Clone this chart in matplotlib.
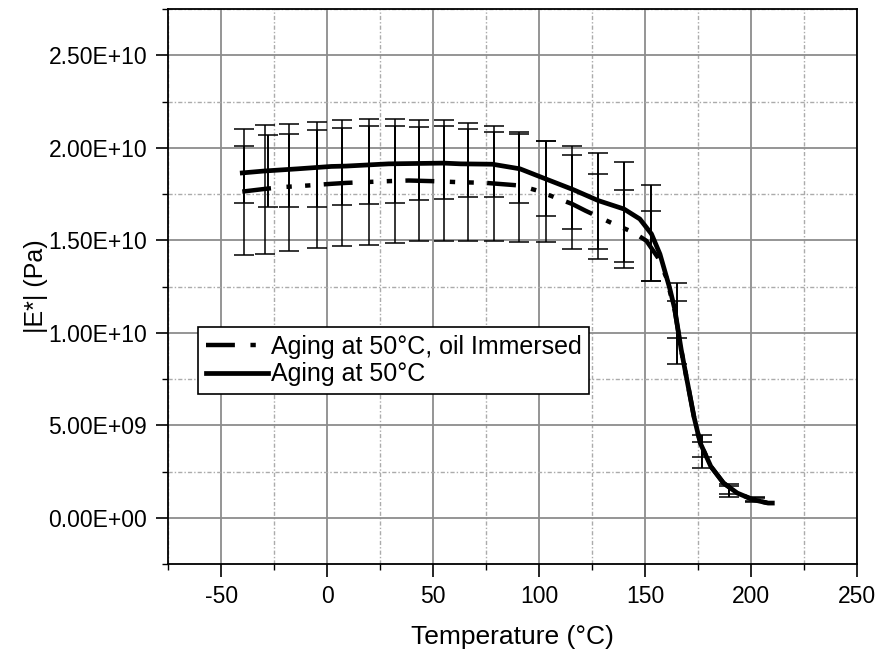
import numpy as np
import matplotlib
matplotlib.use("Agg")
import matplotlib.pyplot as plt
from matplotlib.ticker import MultipleLocator

plt.rcParams['font.family'] = ['Liberation Sans', 'DejaVu Sans']

# curve readings (temperature in C, |E*| in units of 1e10 Pa)
t_dry = [-40, -30, -14, 2, 9, 29, 55, 63, 78, 91, 103, 116, 128, 140, 147.5, 153,
         157, 161.5, 164, 167, 170, 173, 176, 181, 187, 193.5, 201, 208, 210]
e_dry = [1.865, 1.875, 1.887, 1.90, 1.902, 1.914, 1.918, 1.914, 1.912, 1.887, 1.833,
         1.775, 1.715, 1.67, 1.616, 1.535, 1.426, 1.246, 1.128, 0.911, 0.73, 0.549,
         0.405, 0.278, 0.188, 0.134, 0.098, 0.08, 0.08]

t_oil = [-40, -29, -21.5, -9, 2, 9, 27.6, 38.5, 51, 62, 75, 90.7, 99, 115.6, 121.8,
         133.5, 144.4, 150.6, 156, 160, 164, 167, 170, 173, 176, 181, 187, 193.5, 201, 208]
e_oil = [1.764, 1.779, 1.788, 1.797, 1.806, 1.811, 1.82, 1.824, 1.82, 1.815, 1.811,
         1.797, 1.77, 1.697, 1.661, 1.598, 1.544, 1.498, 1.408, 1.30, 1.12, 0.91, 0.73,
         0.55, 0.405, 0.278, 0.188, 0.134, 0.098, 0.08]

# error bar readings
eb_t_dry = [-39, -28, -17.9, -4.7, 7, 20, 31.8, 43.5, 55.2, 66.5, 78.7, 90.7, 103.4,
            115.6, 127.7, 140.2, 152.7, 165, 177, 189.6, 202]
eb_m_dry = [1.855, 1.877, 1.88, 1.889, 1.90, 1.906, 1.91, 1.916, 1.921, 1.919, 1.91,
            1.887, 1.837, 1.76, 1.712, 1.652, 1.539, 1.05, 0.36, 0.15, 0.10]
eb_s_dry = [0.153, 0.194, 0.197, 0.206, 0.21, 0.21, 0.21, 0.197, 0.196, 0.185, 0.176,
            0.186, 0.203, 0.2, 0.26, 0.27, 0.258, 0.22, 0.09, 0.035, 0.012]

eb_t_oil = [-39, -29.3, -17.9, -4.7, 7, 20, 31.8, 43.5, 55.2, 66.5, 78.7, 90.7, 103.4,
            115.6, 127.7, 140.2, 152.7, 165, 177, 189.6, 202]
eb_m_oil = [1.76, 1.774, 1.788, 1.80, 1.81, 1.816, 1.82, 1.822, 1.822, 1.816, 1.807,
            1.79, 1.765, 1.733, 1.63, 1.562, 1.47, 1.07, 0.37, 0.15, 0.10]
eb_s_oil = [0.34, 0.348, 0.344, 0.34, 0.34, 0.34, 0.335, 0.327, 0.327, 0.32, 0.31,
            0.296, 0.275, 0.28, 0.23, 0.213, 0.19, 0.1, 0.04, 0.02, 0.01]

scale = 1e10

fig = plt.figure(figsize=(8.8, 6.59), dpi=100)
ax = fig.add_axes([0.191, 0.144, 0.783, 0.842])

ax.errorbar(eb_t_oil, np.array(eb_m_oil) * scale, yerr=np.array(eb_s_oil) * scale,
            fmt='none', ecolor='black', elinewidth=1.1, capsize=7, capthick=1.1, zorder=3)
ax.errorbar(eb_t_dry, np.array(eb_m_dry) * scale, yerr=np.array(eb_s_dry) * scale,
            fmt='none', ecolor='black', elinewidth=1.4, capsize=7, capthick=1.1, zorder=3)

l_oil, = ax.plot(t_oil, np.array(e_oil) * scale, color='black', lw=3.2,
                 dashes=(6.5, 3.5, 1.2, 3, 1.2, 3), dash_capstyle='butt', zorder=4,
                 label='Aging at 50°C, oil Immersed')
l_dry, = ax.plot(t_dry, np.array(e_dry) * scale, color='black', lw=3.4, zorder=5,
                 label='Aging at 50°C')

ax.set_xlim(-75, 250)
ax.set_ylim(-2.5e9, 2.75e10)
ax.xaxis.set_major_locator(MultipleLocator(50))
ax.xaxis.set_minor_locator(MultipleLocator(25))
ax.yaxis.set_major_locator(MultipleLocator(5e9))
ax.yaxis.set_minor_locator(MultipleLocator(2.5e9))
ax.xaxis.set_major_formatter(lambda v, p: '%d' % v)
ax.yaxis.set_major_formatter(lambda v, p: '%.2E' % v)

ax.grid(which='major', color='#8c8c8c', lw=1.3, ls='-', zorder=0)
ax.grid(which='minor', color='#ababab', lw=1.0, dashes=(3, 1.5, 1, 1.5), zorder=0)
ax.set_axisbelow(True)

ax.tick_params(which='major', direction='out', length=9, width=1.2, labelsize=16.5,
               colors='black', pad=6)
ax.tick_params(which='minor', direction='out', length=4, width=1.0)
for s in ax.spines.values():
    s.set_linewidth(1.3)
    s.set_color('black')

ax.set_xlabel('Temperature (°C)', fontsize=19, labelpad=12)
ax.set_ylabel('|E*| (Pa)', fontsize=18, labelpad=0)

leg = ax.legend(handles=[l_oil, l_dry], loc='upper left', bbox_to_anchor=(0.0435, 0.427),
                borderaxespad=0, fontsize=18, frameon=True, fancybox=False,
                handlelength=2.5, handletextpad=0.1, borderpad=0.3, labelspacing=0.15)
leg.get_frame().set_edgecolor('black')
leg.get_frame().set_linewidth(1.2)
leg.get_frame().set_alpha(1)

fig.savefig('out.png', dpi=100)
